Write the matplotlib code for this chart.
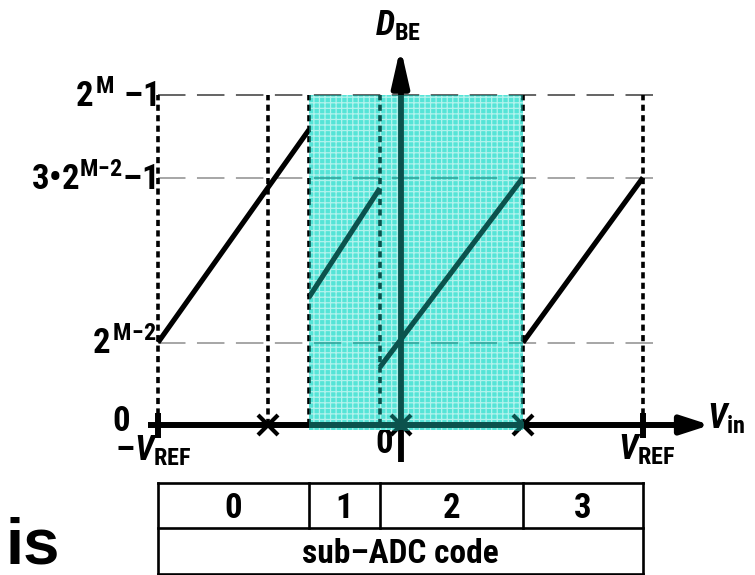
import matplotlib
matplotlib.use("Agg")
import matplotlib.pyplot as plt
from matplotlib import font_manager, transforms
from matplotlib.patches import Rectangle

# Input axis in units of V_REF, output axis in units of 2^(M-2)
code_edges = [-1.0, -0.377, -0.085, 0.505, 1.0]
code_labels = ["0", "1", "2", "3"]

seg_x0 = [-1.0, -0.377, -0.085, 0.505]
seg_x1 = [-0.377, -0.085, 0.505, 1.0]
seg_y0 = [1.0, 1.55, 0.70, 1.0]
seg_y1 = [3.58, 2.87, 3.0, 3.0]

transitions = [-0.545, 0.0, 0.505]
guide_x = [-1.0, -0.545, -0.377, -0.085, 0.505, 1.0]

level_vals = [0, 1, 3, 4]
level_labels = ["0", r"$2^{\,\mathrm{M{-}2}}$", r"3•$2^{\mathrm{M{-}2}}$–1", r"$2^{\,\mathrm{M}}$ –1"]
dash_levels = [1, 3, 4]
dash_colors = ["#8e8e8e", "#8e8e8e", "#3a3a3a"]

shade_x = [code_edges[1], code_edges[3]]

# ---- fonts: a narrow grotesque with bold and bold italic ----
faces = font_manager.fontManager.ttflist
prefs = ["Liberation Sans Narrow", "Arial Narrow", "Roboto Condensed",
         "IBM Plex Sans Condensed", "PT Sans Narrow"]
narrow = "Liberation Sans"
for cand in prefs:
    if any(f.name == cand and f.weight in (700, "bold") for f in faces):
        narrow = cand
        break
plt.rcParams["font.family"] = [narrow, "DejaVu Sans"]
plt.rcParams["font.weight"] = "bold"
plt.rcParams["mathtext.fontset"] = "custom"
plt.rcParams["mathtext.rm"] = f"{narrow}:bold"
plt.rcParams["mathtext.bf"] = f"{narrow}:bold"
plt.rcParams["mathtext.it"] = f"{narrow}:italic:bold"
plt.rcParams["hatch.linewidth"] = 0.9

fig = plt.figure(figsize=(7.55, 5.75), dpi=100)
ax = fig.add_axes([0, 0, 1, 1])
ax.set_xlim(-400.5 / 242.5, (755 - 400.5) / 242.5)
ax.set_ylim((425 - 575) / 82.5, 425 / 82.5)
ax.axis("off")

top = max(level_vals)
x_right = 1.046


def draw_marks(black, grey_map, z, clip=None):
    arts = []
    for lv, c in zip(dash_levels, dash_colors):
        arts += ax.plot([code_edges[0], x_right], [lv, lv], color=grey_map.get(c, c),
                        lw=1.1, ls=(0, (18, 7.5)), zorder=z)
    for gx in guide_x:
        arts += ax.plot([gx, gx], [0, top], color=black, lw=2.6,
                        ls=(0, (1.7, 1.2)), zorder=z + 0.1)
    for a, b, c, d in zip(seg_x0, seg_x1, seg_y0, seg_y1):
        arts += ax.plot([a, b], [c, d], color=black, lw=3.7,
                        solid_capstyle="butt", zorder=z + 0.2)
    arts += ax.plot([-1.04, 1.20], [0, 0], color=black, lw=4.3,
                    solid_capstyle="butt", zorder=z + 0.3)
    arts += ax.plot([0, 0], [-0.45, 4.35], color=black, lw=4.2,
                    solid_capstyle="butt", zorder=z + 0.3)
    arts += ax.plot(transitions, [0] * len(transitions), ls="none", marker="x",
                    ms=14, mew=3.0, color=black, zorder=z + 0.4)
    for tx in (code_edges[0], code_edges[-1]):
        arts += ax.plot([tx, tx], [0.145, -0.16], color=black, lw=4.3,
                        solid_capstyle="butt", zorder=z + 0.4)
    if clip is not None:
        for a in arts:
            a.set_clip_path(clip)
    return arts


draw_marks("black", {}, 2)

# arrow heads of the two axes
ax.annotate("", xy=(1.277, 0), xytext=(1.15, 0),
            arrowprops=dict(arrowstyle="-|>,head_length=1.7,head_width=0.55",
                            color="black", lw=4.3, shrinkA=0, shrinkB=0,
                            mutation_scale=10), zorder=3)
ax.annotate("", xy=(0, 4.58), xytext=(0, 4.2),
            arrowprops=dict(arrowstyle="-|>,head_length=2.2,head_width=0.5",
                            color="black", lw=4.2, shrinkA=0, shrinkB=0,
                            mutation_scale=10), zorder=3)

# shaded span covering sub-ADC codes 1 and 2
shade = Rectangle((shade_x[0], -0.06), shade_x[1] - shade_x[0], top + 0.06,
                  facecolor="#55e4d7", edgecolor="none", zorder=5)
ax.add_patch(shade)
ax.add_patch(Rectangle((shade_x[0], -0.06), shade_x[1] - shade_x[0], top + 0.06,
                       facecolor="none", edgecolor=(1, 1, 1, 0.55), lw=0,
                       hatch="+++", zorder=5.5))
clip_rect = Rectangle((shade_x[0], -0.06), shade_x[1] - shade_x[0], top + 0.06,
                      transform=ax.transData, facecolor="none", edgecolor="none")
draw_marks("#0b524d", {"#8e8e8e": "#2e9f96", "#3a3a3a": "#17706a"}, 6, clip=clip_rect)

# output-level labels
for lv, txt in zip(level_vals, level_labels):
    dy = -6 if lv == 0 else -12
    tr = transforms.offset_copy(ax.transData, fig=fig, x=0, y=dy, units="dots")
    ax.text(-1.115 if lv == 0 else -1.008, lv, txt, ha="right", va="baseline",
            fontsize=25, transform=tr)

ax.text(-0.105, 4.727, r"$D_{\mathrm{BE}}$", ha="left", va="baseline", fontsize=25)
ax.text(1.262, -0.036, r"$V_{\mathrm{in}}$", ha="left", va="baseline", fontsize=25)
ax.text(-1.177, -0.43, r"–$V_{\mathrm{REF}}$", ha="left", va="baseline", fontsize=25)
ax.text(0.897, -0.41, r"$V_{\mathrm{REF}}$", ha="left", va="baseline", fontsize=25)
ax.text(-0.031, -0.34, "0", ha="right", va="baseline", fontsize=25)

# sub-ADC code table
row_top, row_mid, row_bot = -0.703, -1.248, -1.806
tab_lw = 1.9
for yy in (row_top, row_mid, row_bot):
    ax.plot([code_edges[0], code_edges[-1]], [yy, yy], color="black", lw=tab_lw)
for e in (code_edges[0], code_edges[-1]):
    ax.plot([e, e], [row_top, row_bot], color="black", lw=tab_lw)
for e in code_edges[1:-1]:
    ax.plot([e, e], [row_top, row_mid], color="black", lw=tab_lw)
for a, b, lab in zip(code_edges[:-1], code_edges[1:], code_labels):
    ax.text((a + b) / 2, (row_top + row_mid) / 2, lab, ha="center", va="center_baseline",
            fontsize=25)
ax.text((code_edges[0] + code_edges[-1]) / 2, (row_mid + row_bot) / 2, "sub–ADC code",
        ha="center", va="center_baseline", fontsize=24)

fig.text(5 / 755, 1 - 563 / 575, "is", ha="left", va="baseline", fontsize=47,
         fontweight="bold", family=["Liberation Sans", "DejaVu Sans"])

fig.savefig("out.png", dpi=100)
